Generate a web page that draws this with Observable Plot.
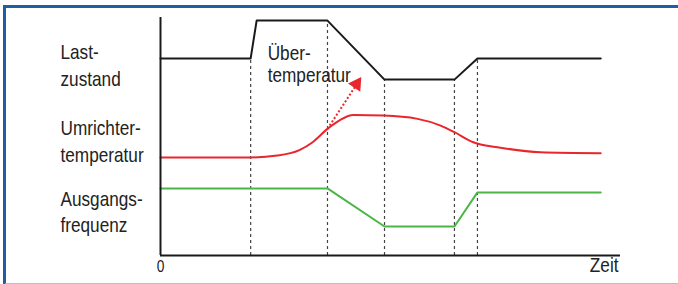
<!DOCTYPE html>
<html>
<head>
<meta charset="utf-8">
<script src="https://cdn.jsdelivr.net/npm/d3@7"></script>
<script src="https://cdn.jsdelivr.net/npm/@observablehq/plot@0.6"></script>
<style>
  html, body { margin: 0; padding: 0; background: #fff; }
  #wrap { position: relative; width: 678px; height: 284px; overflow: hidden; font-family: "Liberation Sans", Arial, sans-serif; }
  #frame { position: absolute; left: 3px; top: 5px; width: 690px; height: 275px;
           border-top: 3px solid #1f5ea3; border-left: 3px solid #1f5ea3; border-bottom: 2px solid #a9c3df; }
  #chart { position: absolute; left: 0; top: 0; }
</style>
</head>
<body>
<div id="wrap"><div id="frame"></div><div id="chart"></div></div>
<script>
// Schematic time axis (0..100) and signal levels (0..100)
const lastTime  = [0, 19.6, 20.9, 36.3, 48.7, 63.9, 68.9, 95.7];
const lastLevel = [82.8, 82.8, 98.7, 98.7, 73.9, 73.9, 82.8, 82.8];

const tempTime  = [0, 19.6, 25.4, 30.2, 33.0, 36.3, 39.1, 41.9, 48.5, 55.9, 60.9, 63.9, 68.0, 73.9, 82.6, 95.7];
const tempLevel = [41.2, 41.2, 42.0, 44.3, 47.5, 53.2, 57.0, 59.0, 58.8, 57.4, 54.6, 51.8, 47.6, 45.3, 43.4, 43.0];

const freqTime  = [0, 36.3, 48.7, 63.9, 68.9, 95.7];
const freqLevel = [28.2, 28.2, 12.2, 12.2, 26.5, 26.5];

const eventTime  = [19.6, 36.3, 48.7, 63.9, 68.9];
const eventLevel = [82.8, 98.7, 73.9, 73.9, 82.8];

const arrowFrom = [36.3, 53.2];
const arrowTo   = [42.4, 71.2];

const seriesLabels = ["Last-\nzustand", "Umrichter-\ntemperatur", "Ausgangs-\nfrequenz"];
const seriesLabelLevel = [80.5, 48.5, 19.0];
const noteLabel = "Über-\ntemperatur";
const noteAt = [23.3, 80.5];
const xTicks = [0];
const xLabel = "Zeit";

const lastData = lastTime.map((t, i) => ({t, v: lastLevel[i]}));
const tempData = tempTime.map((t, i) => ({t, v: tempLevel[i]}));
const freqData = freqTime.map((t, i) => ({t, v: freqLevel[i]}));
const events = eventTime.map((t, i) => ({t, v: eventLevel[i]}));
const labels = seriesLabels.map((s, i) => ({s, v: seriesLabelLevel[i]}));

const font = "Liberation Sans, Arial, sans-serif";

const chart = Plot.plot({
  width: 678,
  height: 284,
  marginLeft: 160,
  marginRight: 58,
  marginTop: 17,
  marginBottom: 29,
  style: {fontFamily: font, background: "transparent", overflow: "visible"},
  x: {domain: [0, 100], axis: null},
  y: {domain: [0, 100], axis: null},
  marks: [
    Plot.ruleX(events, {x: "t", y1: 0, y2: "v", stroke: "#444", strokeWidth: 1.2, strokeDasharray: "3,3"}),
    Plot.line(lastData, {x: "t", y: "v", stroke: "#1a1a1a", strokeWidth: 2}),
    Plot.line(freqData, {x: "t", y: "v", stroke: "#4cb548", strokeWidth: 2}),
    Plot.line(tempData, {x: "t", y: "v", stroke: "#e8262b", strokeWidth: 2, curve: "monotone-x"}),
    Plot.link([{x1: arrowFrom[0], y1: arrowFrom[1], x2: arrowTo[0], y2: arrowTo[1]}],
      {x1: "x1", y1: "y1", x2: "x2", y2: "y2", stroke: "#e8262b", strokeWidth: 2, strokeDasharray: "2,2"}),
    Plot.dot([{x: arrowTo[0], y: arrowTo[1]}], {x: "x", y: "y", symbol: "triangle", r: 5.5, fill: "#e8262b", stroke: "none", rotate: 34, dx: 1, dy: -2}),
    Plot.ruleX([0], {stroke: "#1a1a1a", strokeWidth: 2}),
    Plot.ruleY([0], {stroke: "#1a1a1a", strokeWidth: 2}),
    Plot.text(labels, {y: "v", text: "s", frameAnchor: "left", dx: -100, textAnchor: "start", fontSize: 20, lineHeight: 1.33, fill: "#222"}),
    Plot.text([noteLabel], {x: noteAt[0], y: noteAt[1], text: d => d, textAnchor: "start", fontSize: 20, lineHeight: 1.12, fill: "#222"}),
    Plot.text(xTicks, {x: d => d, text: d => String(d), frameAnchor: "bottom", dy: 16, fontSize: 16, fill: "#222"}),
    Plot.text([xLabel], {text: d => d, frameAnchor: "bottom-right", textAnchor: "end", dx: -2, dy: 16, fontSize: 20, fill: "#222"})
  ]
});
chart.querySelectorAll("text").forEach(t => {
  const tr = t.getAttribute("transform") || "";
  t.setAttribute("transform", tr + " scale(0.86,1)");
});
document.getElementById("chart").appendChild(chart);
</script>
</body>
</html>
